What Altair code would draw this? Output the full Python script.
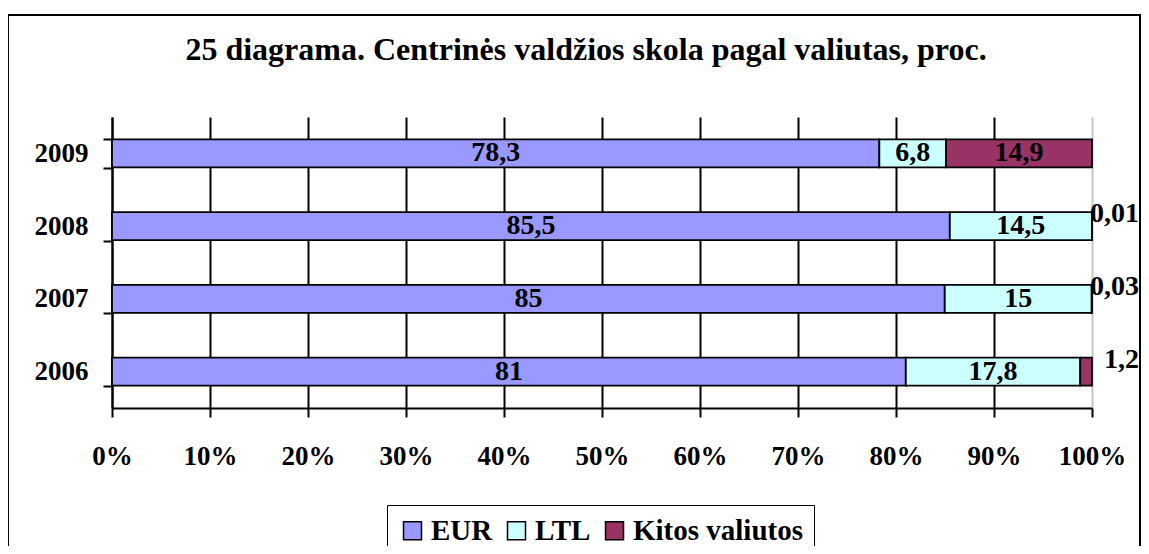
import altair as alt
import pandas as pd

# ---- data ----
years = ["2009", "2008", "2007", "2006"]
series = ["EUR", "LTL", "Kitos valiutos"]
eur = [78.3, 85.5, 85, 81]
ltl = [6.8, 14.5, 15, 17.8]
kitos = [14.9, 0.01, 0.03, 1.2]
colors = ["#9999FF", "#CCFFFF", "#993366"]
x_ticks = [0, 0.1, 0.2, 0.3, 0.4, 0.5, 0.6, 0.7, 0.8, 0.9, 1.0]
title_text = "25 diagrama. Centrinės valdžios skola pagal valiutas, proc."

rows = []
for i, yr in enumerate(years):
    for j, (s, vals) in enumerate(zip(series, [eur, ltl, kitos])):
        v = vals[i]
        rows.append({"year": yr, "series": s, "order": j, "value": v,
                     "label": f"{v:g}".replace(".", ",")})
df = pd.DataFrame(rows)

FONT = "Liberation Serif"

base = alt.Chart(df)

bars = base.mark_bar(size=28, stroke="black", strokeWidth=1.8).encode(
    x=alt.X("value:Q", stack="normalize",
            scale=alt.Scale(domain=[0, 1], nice=False),
            axis=alt.Axis(title=None, format="%", values=x_ticks, grid=True,
                          gridColor=alt.condition("datum.value === 1", alt.value("#c8c8c8"), alt.value("black")),
                          gridWidth=2, tickSize=9, tickWidth=2, tickColor="black",
                          domainColor="black", domainWidth=2, labelPadding=26,
                          labelFlush=False,
                          labelFont=FONT, labelFontWeight="bold", labelFontSize=27,
                          labelColor="black")),
    y=alt.Y("year:N", sort=years,
            axis=alt.Axis(title=None, tickBand="extent", tickSize=9, tickWidth=2,
                          tickColor="black", domainColor="black", domainWidth=2,
                          labelPadding=15, grid=False, labelFont=FONT,
                          labelFontWeight="bold", labelFontSize=27, labelColor="black")),
    color=alt.Color("series:N", sort=series,
                    scale=alt.Scale(domain=series, range=colors),
                    legend=alt.Legend(title=None, orient="none", legendX=275, legendY=388,
                                      direction="horizontal", strokeColor="black",
                                      padding=11, symbolType="square", symbolSize=324,
                                      symbolStrokeColor="black", symbolStrokeWidth=1.5,
                                      symbolOpacity=1, labelFont=FONT, labelFontWeight="bold",
                                      labelFontSize=29, labelColor="black", labelOffset=4,
                                      labelLimit=400, columnPadding=9)),
    order=alt.Order("order:Q"),
)

stacked = base.transform_stack(
    stack="value", groupby=["year"], as_=["v0", "v1"], offset="normalize",
    sort=[alt.SortField("order")]
).transform_calculate(mid="(datum.v0 + datum.v1) / 2")

inner = stacked.transform_filter("datum.value >= 2").mark_text(
    font=FONT, fontWeight="bold", fontSize=28, color="black", baseline="middle"
).encode(x="mid:Q", y=alt.Y("year:N", sort=years), text="label:N")

outer = stacked.transform_filter("datum.value < 2").mark_text(
    font=FONT, fontWeight="bold", fontSize=28, color="black", baseline="middle",
    align="right", dx=47, dy=-12
).encode(x="v1:Q", y=alt.Y("year:N", sort=years), text="label:N")

frame = alt.Chart(pd.DataFrame({"a": [0]})).mark_rect(
    fill="transparent", stroke="black", strokeWidth=2
).encode(x=alt.value(-104), x2=alt.value(1028), y=alt.value(-102), y2=alt.value(470))

chart = alt.layer(bars, inner, outer, frame).properties(
    width=980, height=291,
    padding={"left": 104, "top": 109, "right": 49, "bottom": 138},
    autosize=alt.AutoSizeParams(type="none"),
    title=alt.TitleParams(title_text, font=FONT, fontWeight="bold", fontSize=32,
                          color="black", anchor="middle", baseline="alphabetic",
                          offset=-78, dx=-16),
).configure_view(strokeWidth=0).configure_scale(bandPaddingInner=0.6)

chart.save("out.html", embed_options={"renderer": "svg", "actions": False})
